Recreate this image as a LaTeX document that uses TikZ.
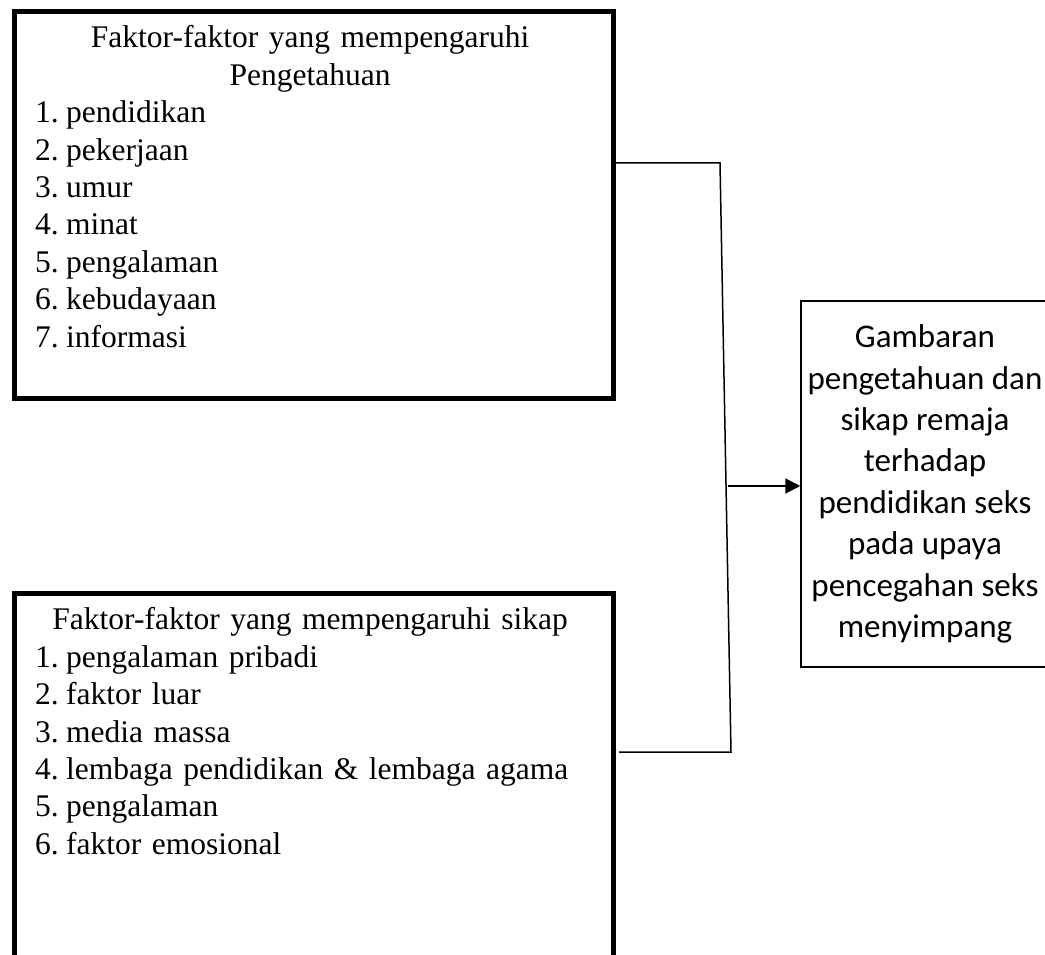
\documentclass[tikz,border=0pt]{standalone}
\usepackage{fontspec}
\setmainfont{Liberation Serif}
\newfontfamily\calib{Carlito}
\usetikzlibrary{arrows.meta}
\newcommand\itmnum[1]{\makebox[31pt][l]{#1}}
\begin{document}
\frenchspacing
\begin{tikzpicture}[x=1pt,y=-1pt,
  thickbox/.style={draw, line width=5pt, minimum width=599pt, inner sep=0pt, anchor=north west},
  listtext/.style={anchor=north west, inner sep=0pt, text width=550pt, font=\fontsize{31.5}{37.4}\selectfont},
  conn/.style={line width=1.5pt},
  arrowc/.style={line width=2pt, -{Triangle[length=15pt,width=15pt]}},
  outbox/.style={draw, line width=1.5pt, minimum width=248pt, minimum height=366pt, inner sep=0pt, align=center, font=\calib\fontsize{33}{41.4}\selectfont}]
\useasboundingbox (0,0) rectangle (1045,955);
\clip (0,0) rectangle (1045,955);
\fill[white] (0,0) rectangle (1045,955);
% boxes
\node[thickbox, minimum height=386pt] (box1) at (11.5,9.5) {};
\node[thickbox, minimum height=420pt] (box2) at (11.5,590.5) {};
\node[listtext] (t1) at (35,25.5) {{\centering Faktor-faktor yang mempengaruhi\\ Pengetahuan\par}\raggedright
\itmnum{1.}pendidikan\\
\itmnum{2.}pekerjaan\\
\itmnum{3.}umur\\
\itmnum{4.}minat\\
\itmnum{5.}pengalaman\\
\itmnum{6.}kebudayaan\\
\itmnum{7.}informasi\par};
\node[listtext] (t2) at (35,607.5) {{\centering Faktor-faktor yang mempengaruhi sikap\par}\raggedright
\itmnum{1.}pengalaman pribadi\\
\itmnum{2.}faktor luar\\
\itmnum{3.}media massa\\
\itmnum{4.}lembaga pendidikan \& lembaga agama\\
\itmnum{5.}pengalaman\\
\itmnum{6.}faktor emosional\par};
\node[outbox] (box3) at (925,484) {Gambaran\\pengetahuan dan\\sikap remaja\\terhadap\\pendidikan seks\\pada upaya\\pencegahan seks\\menyimpang};
% connectors
\coordinate (j1) at (720,163);
\coordinate (j2) at (731,752);
\coordinate (e2) at (619,752);
\coordinate (a0) at (728,486);
\draw[conn] (box1.east |- j1) -- (j1) -- (j2) -- (e2);
\draw[arrowc] (a0) -- (box3.west |- a0);
\end{tikzpicture}
\end{document}
